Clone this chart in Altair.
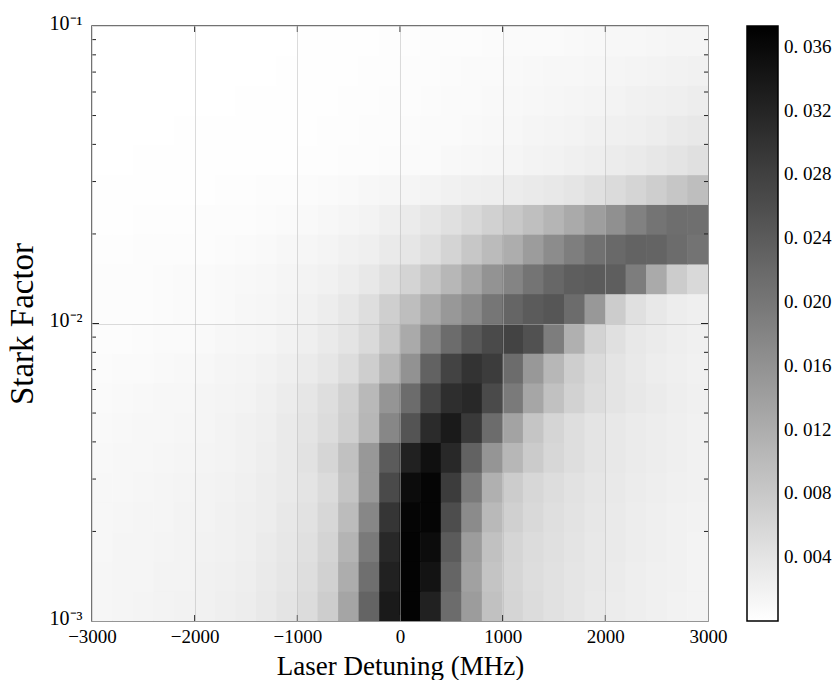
import altair as alt
import pandas as pd

# ---------------- data ----------------
# detuning cell centres (MHz)
X_CENTERS = [-2900, -2700, -2500, -2300, -2100, -1900, -1700, -1500, -1300, -1100,
             -900, -700, -500, -300, -100, 100, 300, 500, 700, 900,
             1100, 1300, 1500, 1700, 1900, 2100, 2300, 2500, 2700, 2900]
# log10(Stark factor) row centres, bottom to top
LOG_S_CENTERS = [-2.95, -2.85, -2.75, -2.65, -2.55, -2.45, -2.35, -2.25, -2.15, -2.05,
                 -1.95, -1.85, -1.75, -1.65, -1.55, -1.45, -1.35, -1.25, -1.15, -1.05]

# signal per cell, in units of 1e-3, one list per row (bottom to top)
ROW_00 = [1.3, 1.5, 1.6, 1.7, 1.9, 2.0, 2.3, 2.6, 3.2, 3.9, 5.1, 7.3, 13.1, 22.6, 33.5, 36.8, 32.5, 21.5, 14.5, 9.0, 6.2, 5.1, 4.4, 3.8, 3.2, 2.8, 2.5, 2.2, 1.9, 1.7]
ROW_01 = [1.3, 1.4, 1.5, 1.7, 1.8, 2.0, 2.2, 2.5, 3.0, 3.7, 4.8, 6.8, 12.0, 21.0, 32.5, 36.9, 34.5, 22.5, 13.8, 8.7, 6.0, 5.0, 4.4, 3.8, 3.3, 2.9, 2.5, 2.2, 2.0, 1.8]
ROW_02 = [1.2, 1.4, 1.5, 1.6, 1.7, 1.9, 2.1, 2.4, 2.9, 3.5, 4.5, 6.3, 11.0, 19.5, 31.5, 36.8, 35.5, 24.0, 14.5, 9.0, 6.2, 5.1, 4.5, 3.9, 3.4, 3.0, 2.6, 2.3, 2.0, 1.8]
ROW_03 = [1.2, 1.3, 1.4, 1.5, 1.7, 1.8, 2.0, 2.3, 2.7, 3.3, 4.2, 5.8, 9.8, 17.5, 29.5, 36.5, 36.6, 26.0, 17.0, 10.2, 6.9, 5.5, 4.7, 4.1, 3.5, 3.1, 2.7, 2.4, 2.1, 1.9]
ROW_04 = [1.1, 1.2, 1.3, 1.5, 1.6, 1.7, 1.9, 2.2, 2.6, 3.1, 3.9, 5.3, 8.6, 15.0, 26.5, 35.5, 36.6, 28.5, 19.5, 11.5, 7.5, 5.9, 5.0, 4.3, 3.7, 3.2, 2.8, 2.5, 2.2, 2.0]
ROW_05 = [1.0, 1.1, 1.2, 1.3, 1.5, 1.6, 1.8, 2.1, 2.5, 3.1, 4.2, 6.0, 9.0, 15.0, 24.0, 32.5, 35.0, 31.5, 23.0, 15.5, 10.5, 7.6, 5.9, 4.8, 3.9, 3.3, 2.9, 2.6, 2.3, 2.0]
ROW_06 = [0.9, 1.0, 1.1, 1.2, 1.3, 1.5, 1.7, 2.0, 2.4, 3.0, 3.9, 5.1, 7.0, 10.5, 17.5, 25.0, 31.0, 33.5, 29.0, 21.5, 13.5, 8.5, 6.2, 4.8, 3.9, 3.3, 2.9, 2.6, 2.3, 2.0]
ROW_07 = [0.8, 0.9, 1.0, 1.1, 1.2, 1.4, 1.6, 1.8, 2.2, 2.8, 3.6, 4.8, 6.8, 10.3, 15.5, 21.5, 27.0, 30.5, 31.5, 26.5, 19.5, 13.0, 9.0, 6.6, 5.0, 4.0, 3.4, 2.9, 2.5, 2.2]
ROW_08 = [0.6, 0.7, 0.8, 0.9, 1.0, 1.2, 1.4, 1.6, 1.9, 2.3, 2.9, 3.7, 5.0, 7.2, 10.5, 16.0, 23.0, 27.5, 29.8, 28.5, 21.5, 15.0, 10.5, 7.2, 5.2, 4.0, 3.2, 2.7, 2.3, 2.0]
ROW_09 = [0.5, 0.5, 0.6, 0.7, 0.8, 0.9, 1.1, 1.3, 1.5, 1.9, 2.4, 3.0, 3.9, 5.4, 8.0, 12.5, 17.5, 21.5, 24.3, 26.5, 27.5, 25.5, 19.0, 11.5, 6.5, 4.5, 3.4, 2.9, 2.5, 2.2]
ROW_10 = [0.4, 0.5, 0.5, 0.6, 0.7, 0.8, 0.9, 1.1, 1.3, 1.6, 2.0, 2.6, 3.5, 4.8, 7.0, 9.5, 12.5, 15.0, 17.0, 20.0, 22.5, 24.0, 24.7, 21.5, 15.0, 7.5, 4.5, 3.3, 2.7, 2.3]
ROW_11 = [0.4, 0.5, 0.5, 0.6, 0.7, 0.8, 0.9, 1.0, 1.2, 1.4, 1.7, 2.1, 2.6, 3.4, 4.6, 6.3, 8.3, 10.5, 13.0, 15.8, 18.0, 20.4, 22.3, 23.5, 24.0, 23.5, 19.0, 12.5, 7.5, 5.5]
ROW_12 = [0.3, 0.3, 0.4, 0.4, 0.5, 0.5, 0.6, 0.7, 0.9, 1.1, 1.3, 1.6, 2.0, 2.4, 3.0, 3.6, 4.7, 6.3, 8.2, 10.0, 12.0, 14.5, 16.8, 18.8, 20.7, 22.0, 22.8, 22.6, 21.5, 20.5]
ROW_13 = [0.2, 0.2, 0.3, 0.3, 0.3, 0.4, 0.4, 0.5, 0.6, 0.7, 0.9, 1.1, 1.4, 1.8, 2.3, 2.9, 3.7, 4.6, 5.6, 6.7, 8.0, 9.4, 10.8, 12.4, 14.2, 16.3, 18.5, 20.3, 21.2, 21.0]
ROW_14 = [0.1, 0.1, 0.1, 0.2, 0.2, 0.2, 0.3, 0.3, 0.4, 0.5, 0.6, 0.7, 0.9, 1.1, 1.3, 1.5, 1.8, 2.0, 2.3, 2.5, 2.8, 3.0, 3.3, 3.8, 4.5, 5.3, 6.2, 7.2, 8.3, 9.5]
ROW_15 = [0.0, 0.0, 0.1, 0.1, 0.1, 0.1, 0.1, 0.1, 0.2, 0.2, 0.3, 0.3, 0.4, 0.5, 0.6, 0.7, 0.8, 1.0, 1.1, 1.3, 1.5, 1.7, 1.9, 2.2, 2.5, 2.8, 3.1, 3.5, 4.0, 4.6]
ROW_16 = [0.0, 0.0, 0.0, 0.0, 0.1, 0.1, 0.1, 0.1, 0.1, 0.2, 0.2, 0.3, 0.3, 0.4, 0.5, 0.6, 0.7, 0.8, 0.9, 1.0, 1.2, 1.4, 1.6, 1.8, 2.0, 2.2, 2.4, 2.7, 3.0, 3.3]
ROW_17 = [0.0, 0.0, 0.0, 0.0, 0.0, 0.0, 0.0, 0.1, 0.1, 0.1, 0.2, 0.2, 0.3, 0.3, 0.4, 0.5, 0.6, 0.7, 0.8, 0.9, 1.0, 1.2, 1.3, 1.5, 1.6, 1.8, 2.0, 2.2, 2.4, 2.6]
ROW_18 = [0.0, 0.0, 0.0, 0.0, 0.0, 0.0, 0.0, 0.0, 0.0, 0.1, 0.1, 0.2, 0.2, 0.3, 0.3, 0.4, 0.5, 0.6, 0.7, 0.8, 0.9, 1.0, 1.1, 1.2, 1.3, 1.4, 1.6, 1.7, 1.9, 2.0]
ROW_19 = [0.0, 0.0, 0.0, 0.0, 0.0, 0.0, 0.0, 0.0, 0.0, 0.0, 0.1, 0.1, 0.2, 0.2, 0.3, 0.3, 0.4, 0.5, 0.5, 0.6, 0.7, 0.8, 0.8, 0.9, 1.0, 1.1, 1.2, 1.3, 1.4, 1.5]

X_TICKS = [-3000, -2000, -1000, 0, 1000, 2000, 3000]
X_INNER_TICKS = [-2000, -1000, 0, 1000, 2000]
Y_TICKS = [0.001, 0.01, 0.1]
Y_TICK_LABELS = ["10\u207b\u00b3", "10\u207b\u00b2", "10\u207b\u00b9"]
Y_MINOR_TICKS = [0.002, 0.003, 0.004, 0.005, 0.006, 0.007, 0.008, 0.009,
                 0.02, 0.03, 0.04, 0.05, 0.06, 0.07, 0.08, 0.09]
Y_MAJOR_INNER = [0.01]
CBAR_TICKS = [0.004, 0.008, 0.012, 0.016, 0.020, 0.024, 0.028, 0.032, 0.036]
CBAR_MAX = 0.0373
X_TITLE = "Laser Detuning (MHz)"
Y_TITLE = "Stark Factor"

# ---------------- build the long table ----------------
ROWS = [ROW_00, ROW_01, ROW_02, ROW_03, ROW_04, ROW_05, ROW_06, ROW_07, ROW_08, ROW_09,
        ROW_10, ROW_11, ROW_12, ROW_13, ROW_14, ROW_15, ROW_16, ROW_17, ROW_18, ROW_19]
# cells are drawn a hair larger than their pitch so that no seams show between them
half_dx = (X_CENTERS[1] - X_CENTERS[0]) / 2 * 1.03
half_dl = (LOG_S_CENTERS[1] - LOG_S_CENTERS[0]) / 2 * 1.03
recs = []
for ls, row in zip(LOG_S_CENTERS, ROWS):
    for xc, val in zip(X_CENTERS, row):
        recs.append({"xa": xc - half_dx, "xb": xc + half_dx,
                     "ya": 10 ** (ls - half_dl), "yb": 10 ** (ls + half_dl),
                     "v": val * 1e-3})
heat_df = pd.DataFrame(recs)

FONT = "Liberation Serif"
x_scale = alt.Scale(domain=[-3000, 3000], nice=False, zero=False)
y_scale = alt.Scale(type="log", domain=[0.001, 0.1], nice=False)
c_scale = alt.Scale(type="linear", domain=[0, CBAR_MAX], range=["#ffffff", "#000000"],
                    interpolate="rgb", clamp=True)

y_label_expr = (f"datum.value < 0.005 ? '{Y_TICK_LABELS[0]}' : "
                f"datum.value < 0.05 ? '{Y_TICK_LABELS[1]}' : '{Y_TICK_LABELS[2]}'")

heat = alt.Chart(heat_df).mark_rect(clip=True).encode(
    x=alt.X("xa:Q", scale=x_scale, title=X_TITLE,
            axis=alt.Axis(values=X_TICKS, format="d", grid=True, ticks=False, tickSize=0,
                          domain=False, zindex=1, labelPadding=21, labelFlush=False,
                          labelBaseline="alphabetic", labelFontSize=19,
                          titleFontSize=27, titleX=308, titleY=53,
                          titleBaseline="alphabetic", titleAlign="center")),
    x2="xb:Q",
    y=alt.Y("ya:Q", scale=y_scale, title=Y_TITLE,
            axis=alt.Axis(values=Y_TICKS, labelExpr=y_label_expr, grid=True, ticks=False,
                          tickSize=0, domain=False, zindex=1, labelPadding=10,
                          labelFlush=False,
                          labelFontSize=20, labelOffset=-3, labelBaseline="middle",
                          titleFontSize=33, titleAngle=-90, titleX=-70, titleY=297.5,
                          titleBaseline="middle", titleAlign="center")),
    y2="yb:Q",
    color=alt.Color("v:Q", scale=c_scale,
                    legend=alt.Legend(type="gradient", orient="none", legendX=655, legendY=0,
                                      direction="vertical", title=None,
                                      gradientLength=595, gradientThickness=31,
                                      gradientStrokeColor="#000000", gradientStrokeWidth=1.5,
                                      values=CBAR_TICKS, labelFontSize=19, labelFont=FONT,
                                      labelColor="#000000", labelOffset=6, padding=0,
                                      labelExpr="replace(format(datum.value, '.3f'), '.', '. ')")),
)

xt_df = pd.DataFrame({"xa": X_INNER_TICKS})
ymin_df = pd.DataFrame({"ya": Y_MINOR_TICKS})
ymaj_df = pd.DataFrame({"ya": Y_MAJOR_INNER})

TICK_COLOR = "#222222"
xt_bottom = alt.Chart(xt_df).mark_rule(color=TICK_COLOR, strokeWidth=1).encode(
    x=alt.X("xa:Q", scale=x_scale), y=alt.value(589), y2=alt.value(595))
xt_top = alt.Chart(xt_df).mark_rule(color=TICK_COLOR, strokeWidth=1).encode(
    x=alt.X("xa:Q", scale=x_scale), y=alt.value(0), y2=alt.value(6))
ymin_left = alt.Chart(ymin_df).mark_rule(color=TICK_COLOR, strokeWidth=1).encode(
    y=alt.Y("ya:Q", scale=y_scale), x=alt.value(0), x2=alt.value(4))
ymin_right = alt.Chart(ymin_df).mark_rule(color=TICK_COLOR, strokeWidth=1).encode(
    y=alt.Y("ya:Q", scale=y_scale), x=alt.value(612), x2=alt.value(616))
ymaj_left = alt.Chart(ymaj_df).mark_rule(color=TICK_COLOR, strokeWidth=1).encode(
    y=alt.Y("ya:Q", scale=y_scale), x=alt.value(0), x2=alt.value(7))
ymaj_right = alt.Chart(ymaj_df).mark_rule(color=TICK_COLOR, strokeWidth=1).encode(
    y=alt.Y("ya:Q", scale=y_scale), x=alt.value(609), x2=alt.value(616))

chart = alt.layer(heat, xt_bottom, xt_top, ymin_left, ymin_right, ymaj_left, ymaj_right).properties(
    width=616, height=595,
    padding={"left": 92, "top": 26, "right": 129, "bottom": 59},
    autosize=alt.AutoSizeParams(type="none"),
    background="#ffffff",
).configure_view(
    stroke="#444444", strokeWidth=1.5
).configure_axis(
    labelFont=FONT, titleFont=FONT, labelColor="#000000", titleColor="#000000",
    titleFontWeight="normal", gridColor="#b8b8b8", gridOpacity=0.5, gridWidth=1,
)

chart.save("out.html", embed_options={"renderer": "svg", "actions": False})
